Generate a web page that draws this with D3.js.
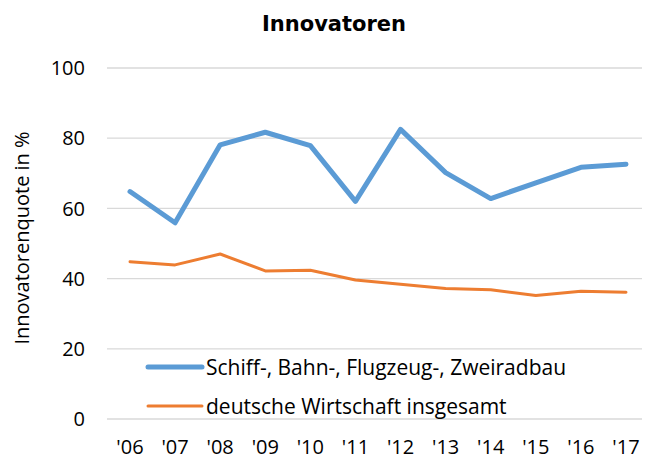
<!DOCTYPE html>
<html>
<head>
<meta charset="utf-8">
<script src="https://cdn.jsdelivr.net/npm/d3@7"></script>
<style>
  body { margin: 0; background: #fff; }
  text { font-family: "Open Sans", "Noto Sans", sans-serif; fill: #000; }
</style>
</head>
<body>
<div id="myDiv"></div>
<script>
// data
var years = ["'06", "'07", "'08", "'09", "'10", "'11", "'12", "'13", "'14", "'15", "'16", "'17"];
var seriesNames = ['Schiff-, Bahn-, Flugzeug-, Zweiradbau', 'deutsche Wirtschaft insgesamt'];
var schiffBahn = [64.8, 55.9, 78.1, 81.7, 77.9, 62.0, 82.5, 70.2, 62.8, 67.3, 71.7, 72.6];
var wirtschaft = [44.8, 43.9, 47.0, 42.2, 42.4, 39.6, 38.4, 37.2, 36.8, 35.2, 36.4, 36.1];
var yTicks = [0, 20, 40, 60, 80, 100];

var seriesColors = ['#5b9bd5', '#ed7d31'];
var seriesWidths = [5, 3];

var width = 645, height = 459;

var svg = d3.select('#myDiv')
  .append('svg')
    .attr('width', width)
    .attr('height', height);

var x = d3.scalePoint()
  .domain(years)
  .range([130, 626]);

var y = d3.scaleLinear()
  .domain([0, 100])
  .range([419, 68]);

var gridLeft = 107, gridRight = 642;

// gridlines
svg.append('g')
  .selectAll('line')
  .data(yTicks)
  .enter().append('line')
    .attr('x1', gridLeft)
    .attr('x2', gridRight)
    .attr('y1', function (d) { return y(d); })
    .attr('y2', function (d) { return y(d); })
    .attr('stroke', '#d9d9d9')
    .attr('stroke-width', 1.3);

// y tick labels
svg.append('g')
  .selectAll('text')
  .data(yTicks)
  .enter().append('text')
    .attr('x', 85)
    .attr('y', function (d) { return y(d); })
    .attr('dy', '0.36em')
    .attr('text-anchor', 'end')
    .style('font-size', '20px')
    .text(function (d) { return d; });

// x tick labels
svg.append('g')
  .selectAll('text')
  .data(years)
  .enter().append('text')
    .attr('x', function (d) { return x(d); })
    .attr('y', 447)
    .attr('dy', '0.36em')
    .attr('text-anchor', 'middle')
    .style('font-size', '20px')
    .text(function (d) { return d; });

// y axis title
svg.append('text')
  .attr('transform', 'translate(22,' + 238 + ') rotate(-90)')
  .attr('text-anchor', 'middle')
  .attr('dy', '0.36em')
  .style('font-size', '20px')
  .text('Innovatorenquote in %');

// chart title
svg.append('text')
  .attr('x', 334)
  .attr('y', 23)
  .attr('dy', '0.36em')
  .attr('text-anchor', 'middle')
  .style('font-family', '"DejaVu Sans", Verdana, sans-serif')
  .style('font-weight', 'bold')
  .style('font-size', '21px')
  .text('Innovatoren');

// lines
var line = d3.line()
  .x(function (d, i) { return x(years[i]); })
  .y(function (d) { return y(d); });

[schiffBahn, wirtschaft].forEach(function (values, i) {
  svg.append('path')
    .datum(values)
    .attr('fill', 'none')
    .attr('stroke', seriesColors[i])
    .attr('stroke-width', seriesWidths[i])
    .attr('stroke-linejoin', 'round')
    .attr('stroke-linecap', 'round')
    .attr('d', line);
});

// legend
var legend = svg.append('g');
var legendY = [367, 406];
seriesNames.forEach(function (name, i) {
  legend.append('line')
    .attr('x1', 148)
    .attr('x2', 202)
    .attr('y1', legendY[i])
    .attr('y2', legendY[i])
    .attr('stroke', seriesColors[i])
    .attr('stroke-width', seriesWidths[i])
    .attr('stroke-linecap', 'round');
  legend.append('text')
    .attr('x', 206)
    .attr('y', legendY[i])
    .attr('dy', '0.36em')
    .style('font-size', '21px')
    .text(name);
});
</script>
</body>
</html>
